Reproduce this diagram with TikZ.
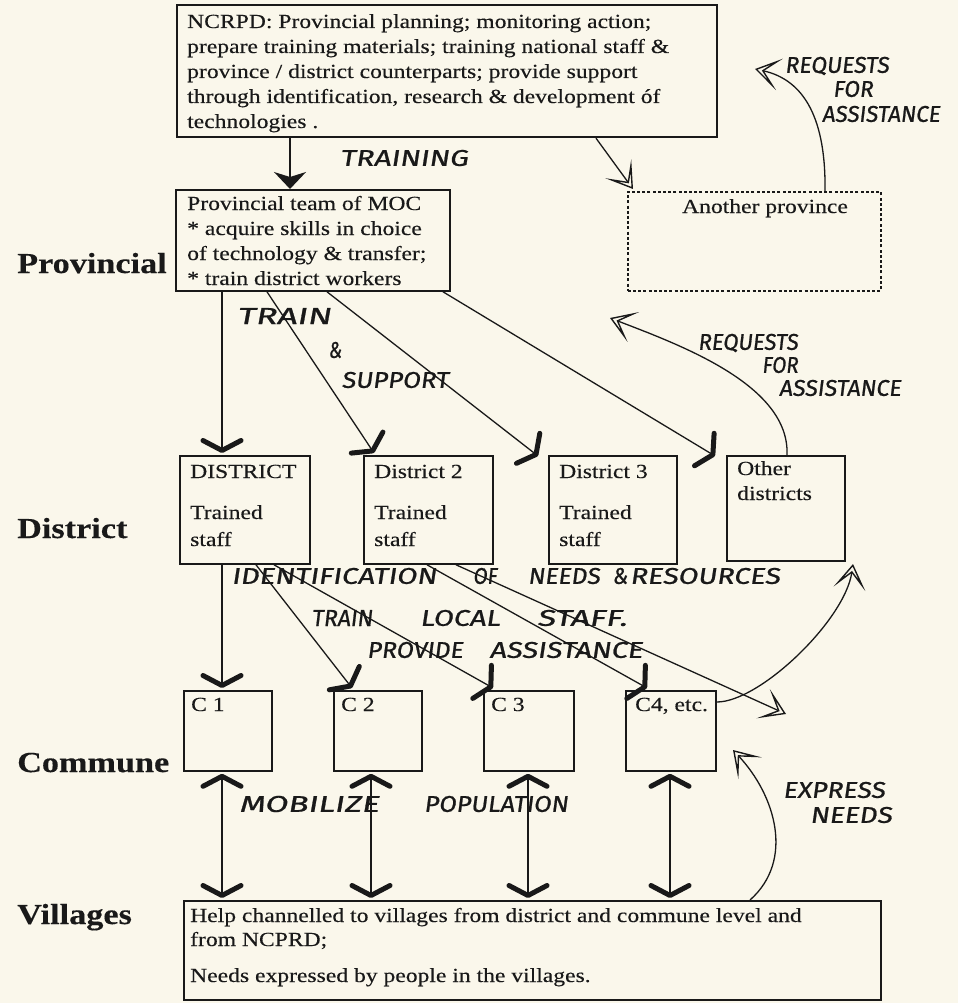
\documentclass[tikz,border=0pt]{standalone}
\usepackage{fontspec}
\setmainfont{Liberation Serif}
\newfontfamily\wide[FakeStretch=1.18,FakeBold=0.3]{Liberation Serif}
\newfontfamily\hand[FakeSlant=0.12,FakeBold=0.8]{Fira Sans}
\usetikzlibrary{arrows.meta,calc}
\definecolor{paper}{RGB}{250,247,235}
\definecolor{ink}{RGB}{25,25,25}
\newcommand\hw[2]{\resizebox{#1pt}{16pt}{\hand #2}}
\begin{document}
\begin{tikzpicture}[x=1pt,y=-1pt, color=ink,
  box/.style={draw, line width=1.8pt, anchor=north west, inner sep=0pt},
  txt/.style={anchor=base west, inner sep=0pt, font=\wide\fontsize{20}{24}\selectfont},
  ctxt/.style={anchor=base, inner sep=0pt, font=\wide\fontsize{20}{24}\selectfont},
  lvl/.style={anchor=base west, inner sep=0pt, font=\wide\bfseries\fontsize{29}{34}\selectfont},
  hnd/.style={inner sep=0pt},
  ba/.style={line width=1.3pt, -{Straight Barb[length=10pt,width=38pt,line width=5pt,round]}},
  tra/.style={line width=1.6pt, -{Stealth[length=17pt,width=32pt,inset=5pt]}},
  ha/.style={line width=1.3pt, -{Stealth[length=25pt,width=32pt,inset=16pt,fill=paper,line width=1.4pt]}},
  dba/.style={line width=1.3pt, {Straight Barb[length=10pt,width=38pt,line width=5pt,round]}-{Straight Barb[length=10pt,width=38pt,line width=5pt,round]}},
]
\fill[paper] (0,0) rectangle (958,1003);
\useasboundingbox (0,0) rectangle (958,1003);

% boxes
\node[box, line width=2.2pt, minimum width=540pt, minimum height=132pt] (ncrpd) at (176,4) {};
\node[box, minimum width=274pt, minimum height=101pt] (prov) at (175,189) {};
\node[box, line width=1.6pt, dash pattern=on 3pt off 2.2pt, minimum width=253pt, minimum height=99pt] (another) at (627,191) {};
\node[box, minimum width=130pt, minimum height=108pt] (d1) at (179,455) {};
\node[box, minimum width=129pt, minimum height=108pt] (d2) at (363,455) {};
\node[box, minimum width=128pt, minimum height=108pt] (d3) at (548,455) {};
\node[box, minimum width=118pt, minimum height=105pt] (dother) at (726,455) {};
\node[box, minimum width=88pt, minimum height=80pt] (c1) at (183,690) {};
\node[box, minimum width=88pt, minimum height=80pt] (c2) at (333,690) {};
\node[box, minimum width=90pt, minimum height=80pt] (c3) at (483,690) {};
\node[box, minimum width=90pt, minimum height=80pt] (c4) at (625,690) {};
\node[box, minimum width=697pt, minimum height=99pt] (vill) at (183,900) {};

% texts in boxes
\node[txt] (n1) at (187,28) {NCRPD: Provincial planning; monitoring action;};
\node[txt] (n2) at (187,53) {prepare training materials; training national staff \&};
\node[txt] (n3) at (187,78) {province / district counterparts; provide support};
\node[txt] (n4) at (187,103) {through identification, research \& development óf};
\node[txt] (n5) at (187,128) {technologies .};
\node[txt] (p1) at (187,210) {Provincial team of MOC};
\node[txt] (p2) at (187,235) {* acquire skills in choice};
\node[txt] (p3) at (187,260) {of technology \& transfer;};
\node[txt] (p4) at (187,285) {* train district workers};
\node[ctxt] (a1) at (765,213) {Another province};
\node[txt] (d1a) at (190,478) {DISTRICT};
\node[txt] (d1b) at (190,519) {Trained};
\node[txt] (d1c) at (190,546) {staff};
\node[txt] (d2a) at (374,478) {District 2};
\node[txt] (d2b) at (374,519) {Trained};
\node[txt] (d2c) at (374,546) {staff};
\node[txt] (d3a) at (559,478) {District 3};
\node[txt] (d3b) at (559,519) {Trained};
\node[txt] (d3c) at (559,546) {staff};
\node[txt] (doa) at (737,475) {Other};
\node[txt] (dob) at (737,500) {districts};
\node[txt] (c1t) at (191,711) {C 1};
\node[txt] (c2t) at (341,711) {C 2};
\node[txt] (c3t) at (491,711) {C 3};
\node[txt] (c4t) at (635,711) {C4, etc.};
\node[txt] (v1) at (190,922) {Help channelled to villages from district and commune level and};
\node[txt] (v2) at (190,946) {from NCPRD;};
\node[txt] (v3) at (190,982) {Needs expressed by people in the villages.};

% level labels
\node[lvl] (lprov) at (17,273) {Provincial};
\node[lvl] (ldist) at (17,538) {District};
\node[lvl] (lcomm) at (17,772) {Commune};
\node[lvl] (lvill) at (17,924) {Villages};

% free ends
\coordinate (req1tip) at (755,69);
\coordinate (req2tip) at (610,318);
\coordinate (d2end) at (786,714);
\coordinate (odtip) at (853,564);
\coordinate (extip) at (733,750);

% connectors
\draw[tra] ([xshift=114pt]ncrpd.south west) -- ([xshift=115pt]prov.north west);
\draw[ha] ([xshift=420pt]ncrpd.south west) -- ([xshift=6pt,yshift=2pt]another.north west);
\draw[ha] ([xshift=198pt]another.north west) .. controls (826,120) and (805,80) .. (req1tip);
\draw[ba] ([xshift=47pt]prov.south west) -- ([xshift=43pt,yshift=2pt]d1.north west);
\draw[ba] ([xshift=92pt]prov.south west) -- ([xshift=11pt,yshift=2pt]d2.north west);
\draw[ba] ([xshift=152pt]prov.south west) -- ([xshift=-10pt,yshift=-1pt]d3.north west);
\draw[ba] ([xshift=268pt]prov.south west) -- ([xshift=-11pt,yshift=-1pt]dother.north west);
\draw[ha] ([xshift=61pt]dother.north west) .. controls (790,385) and (680,345) .. (req2tip);
\draw[ba] ([xshift=43pt]d1.south west) -- ([xshift=39pt,yshift=2pt]c1.north west);
\draw[ba] ([xshift=77pt]d1.south west) -- ([xshift=19pt,yshift=2pt]c2.north west);
\draw[ba] ([xshift=95pt]d1.south west) -- ([xshift=10pt,yshift=2pt]c3.north west);
\draw[ba] ([xshift=64pt]d2.south west) -- ([xshift=22pt,yshift=2pt]c4.north west);
\draw[ha] ([xshift=93pt]d2.south west) -- (d2end);
\draw[ha] ([yshift=-12pt]c4.north east) .. controls (760,702) and (845,620) .. (odtip);
\draw[dba] ([xshift=39pt,yshift=-2pt]c1.south west) -- ([xshift=39pt,yshift=2pt]vill.north west);
\draw[dba] ([xshift=38pt,yshift=-2pt]c2.south west) -- ([xshift=188pt,yshift=2pt]vill.north west);
\draw[dba] ([xshift=45pt,yshift=-2pt]c3.south west) -- ([xshift=345pt,yshift=2pt]vill.north west);
\draw[dba] ([xshift=45pt,yshift=-2pt]c4.south west) -- ([xshift=487pt,yshift=2pt]vill.north west);
\draw[ha] ([xshift=567pt]vill.north west) .. controls (795,860) and (775,795) .. (extip);

% handwritten labels
\node[hnd] (h1) at (404,158) {\hw{128}{TRAINING}};
\node[hnd] (h2) at (837,66) {\hw{104}{REQUESTS}};
\node[hnd] (h3) at (853,89) {\hw{40}{FOR}};
\node[hnd] (h4) at (881,114) {\hw{118}{ASSISTANCE}};
\node[hnd] (h5) at (284,316) {\hw{94}{TRAIN}};
\node[hnd] (h6) at (335,350) {\hw{13}{\&}};
\node[hnd] (h7) at (395,380) {\hw{107}{SUPPORT}};
\node[hnd] (h8) at (748,343) {\hw{100}{REQUESTS}};
\node[hnd] (h9) at (780,365) {\hw{36}{FOR}};
\node[hnd] (h10) at (840,388) {\hw{122}{ASSISTANCE}};
\node[hnd] (h11) at (334,576) {\hw{205}{IDENTIFICATION}};
\node[hnd] (h12) at (485,576) {\hw{24}{OF}};
\node[hnd] (h13) at (564,576) {\hw{72}{NEEDS}};
\node[hnd] (h14) at (620,576) {\hw{15}{\&}};
\node[hnd] (h15) at (705,576) {\hw{150}{RESOURCES}};
\node[hnd] (h16) at (342,618) {\hw{61}{TRAIN}};
\node[hnd] (h17) at (460,618) {\hw{80}{LOCAL}};
\node[hnd] (h18) at (582,618) {\hw{90}{STAFF.}};
\node[hnd] (h19) at (415,650) {\hw{96}{PROVIDE}};
\node[hnd] (h20) at (566,650) {\hw{153}{ASSISTANCE}};
\node[hnd] (h21) at (309,804) {\hw{140}{MOBILIZE}};
\node[hnd] (h22) at (496,804) {\hw{144}{POPULATION}};
\node[hnd] (h23) at (834,790) {\hw{102}{EXPRESS}};
\node[hnd] (h24) at (851,815) {\hw{82}{NEEDS}};
\end{tikzpicture}
\end{document}
